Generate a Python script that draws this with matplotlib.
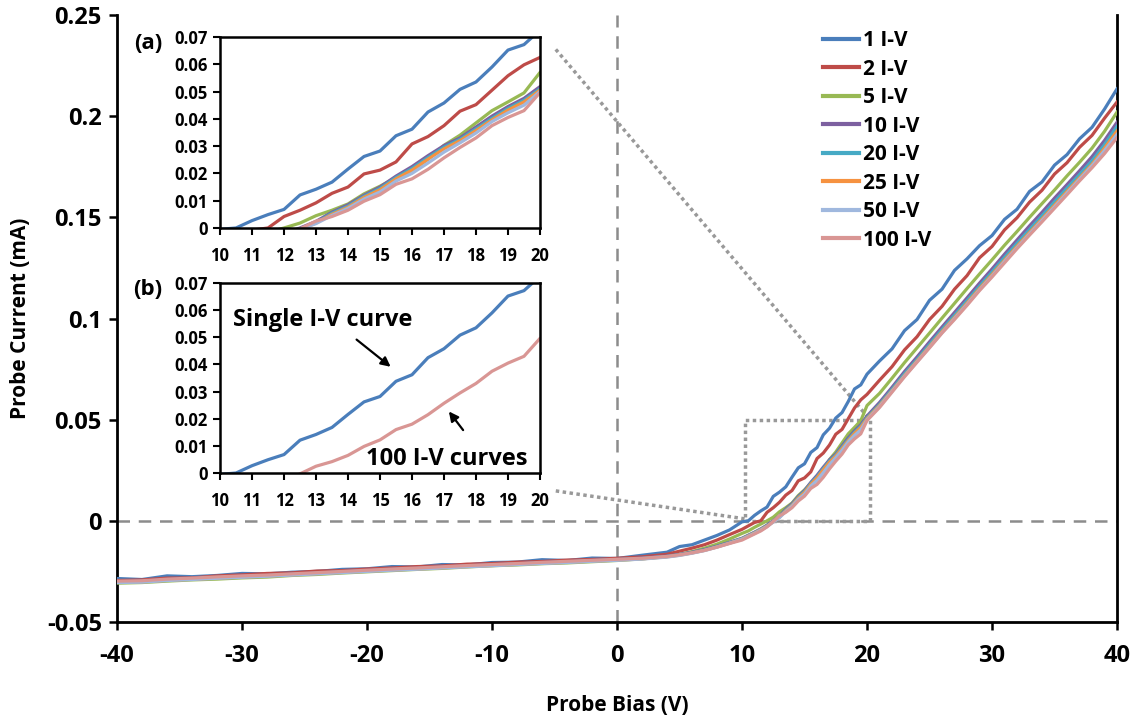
import matplotlib
matplotlib.use("Agg")
import matplotlib.pyplot as plt

plt.rcParams['font.family'] = ['Open Sans', 'DejaVu Sans']
plt.rcParams['font.weight'] = 'bold'
plt.rcParams['axes.unicode_minus'] = False

# probe bias grid (V)
bias = [-40, -38, -36, -34, -32, -30, -28, -26, -24, -22, -20, -18, -16, -14, -12,
        -10, -8, -6, -4, -2, 0, 2, 4,
        5, 6, 7, 8, 9,
        10, 10.5, 11, 11.5, 12, 12.5, 13, 13.5, 14, 14.5, 15, 15.5, 16, 16.5,
        17, 17.5, 18, 18.5, 19, 19.5, 20,
        21, 22, 23, 24, 25, 26, 27, 28, 29, 30, 31, 32, 33, 34, 35, 36, 37, 38, 39, 40]

# probe current (mA), one list per number of averaged I-V sweeps
iv_1 = [-0.0285, -0.0290, -0.0272, -0.0276, -0.0270, -0.0260, -0.0262, -0.0254, -0.0250, -0.0240,
        -0.0237, -0.0226, -0.0228, -0.0216, -0.0218, -0.0206, -0.0204, -0.0192, -0.0196, -0.0184,
        -0.0186, -0.0170, -0.0155,
        -0.0127, -0.0118, -0.0095, -0.0072, -0.0045,
        -0.0005, 0.0000, 0.0027, 0.0049, 0.0068, 0.0121, 0.0142, 0.0168, 0.0216, 0.0262, 0.0282,
        0.0338, 0.0362, 0.0425, 0.0458, 0.0508, 0.0535, 0.0590, 0.0652, 0.0672, 0.0725,
        0.0790, 0.0850, 0.0940, 0.0995, 0.1090, 0.1145, 0.1238, 0.1295, 0.1360, 0.1410,
        0.1490, 0.1540, 0.1628, 0.1675, 0.1758, 0.1810, 0.1888, 0.1945, 0.2035, 0.2135]
iv_2 = [-0.0295, -0.0292, -0.0283, -0.0282, -0.0272, -0.0267, -0.0260, -0.0257, -0.0248, -0.0246,
        -0.0238, -0.0233, -0.0226, -0.0223, -0.0214, -0.0211, -0.0204, -0.0201, -0.0194, -0.0191,
        -0.0185, -0.0178, -0.0165,
        -0.0150, -0.0135, -0.0118, -0.0095, -0.0068,
        -0.0042, -0.0025, -0.0008, 0.0000, 0.0042, 0.0065, 0.0092, 0.0127, 0.0150, 0.0198, 0.0212,
        0.0242, 0.0308, 0.0335, 0.0375, 0.0428, 0.0452, 0.0505, 0.0558, 0.0598, 0.0625,
        0.0695, 0.0762, 0.0845, 0.0910, 0.0995, 0.1060, 0.1145, 0.1212, 0.1300, 0.1356,
        0.1438, 0.1498, 0.1575, 0.1634, 0.1714, 0.1770, 0.1846, 0.1905, 0.1990, 0.2070]
iv_5 = [-0.0308, -0.0305, -0.0298, -0.0292, -0.0288, -0.0282, -0.0278, -0.0270, -0.0265, -0.0258,
        -0.0252, -0.0246, -0.0240, -0.0235, -0.0228, -0.0222, -0.0218, -0.0212, -0.0208, -0.0202,
        -0.0196, -0.0188, -0.0176,
        -0.0166, -0.0152, -0.0135, -0.0115, -0.0090,
        -0.0062, -0.0050, -0.0032, -0.0016, 0.0000, 0.0018, 0.0045, 0.0065, 0.0088, 0.0125, 0.0153,
        0.0185, 0.0210, 0.0252, 0.0303, 0.0340, 0.0385, 0.0430, 0.0462, 0.0495, 0.0570,
        0.0630, 0.0705, 0.0782, 0.0855, 0.0928, 0.1002, 0.1075, 0.1148, 0.1220, 0.1290,
        0.1362, 0.1430, 0.1500, 0.1568, 0.1635, 0.1705, 0.1772, 0.1842, 0.1925, 0.2020]
iv_10 = [-0.0300, -0.0298, -0.0290, -0.0285, -0.0280, -0.0274, -0.0270, -0.0263, -0.0258, -0.0251,
         -0.0245, -0.0240, -0.0234, -0.0229, -0.0222, -0.0217, -0.0212, -0.0206, -0.0202, -0.0196,
         -0.0191, -0.0184, -0.0174,
         -0.0166, -0.0155, -0.0142, -0.0125, -0.0106,
         -0.0086, -0.0071, -0.0056, -0.0040, -0.0021, 0.0000, 0.0024, 0.0058, 0.0085, 0.0120, 0.0150,
         0.0190, 0.0225, 0.0265, 0.0302, 0.0330, 0.0370, 0.0410, 0.0445, 0.0475, 0.0518,
         0.0585, 0.0660, 0.0738, 0.0810, 0.0885, 0.0958, 0.1030, 0.1102, 0.1175, 0.1245,
         0.1318, 0.1388, 0.1458, 0.1525, 0.1595, 0.1662, 0.1730, 0.1800, 0.1880, 0.1970]
iv_20 = [-0.0302, -0.0300, -0.0292, -0.0287, -0.0281, -0.0276, -0.0271, -0.0265, -0.0259, -0.0253,
         -0.0247, -0.0241, -0.0236, -0.0230, -0.0224, -0.0219, -0.0213, -0.0208, -0.0203, -0.0197,
         -0.0192, -0.0186, -0.0176,
         -0.0168, -0.0157, -0.0144, -0.0127, -0.0108,
         -0.0088, -0.0073, -0.0058, -0.0042, -0.0024, -0.0003, 0.0020, 0.0054, 0.0080, 0.0116, 0.0145,
         0.0185, 0.0218, 0.0258, 0.0296, 0.0325, 0.0363, 0.0402, 0.0438, 0.0468, 0.0510,
         0.0576, 0.0650, 0.0727, 0.0798, 0.0872, 0.0945, 0.1016, 0.1088, 0.1160, 0.1230,
         0.1302, 0.1372, 0.1440, 0.1508, 0.1577, 0.1645, 0.1712, 0.1780, 0.1860, 0.1950]
iv_25 = [-0.0304, -0.0302, -0.0294, -0.0289, -0.0283, -0.0278, -0.0273, -0.0267, -0.0261, -0.0255,
         -0.0249, -0.0243, -0.0238, -0.0232, -0.0226, -0.0221, -0.0215, -0.0210, -0.0205, -0.0199,
         -0.0194, -0.0188, -0.0178,
         -0.0170, -0.0159, -0.0146, -0.0129, -0.0110,
         -0.0090, -0.0075, -0.0060, -0.0044, -0.0026, -0.0005, 0.0018, 0.0050, 0.0076, 0.0112, 0.0140,
         0.0180, 0.0212, 0.0252, 0.0290, 0.0320, 0.0357, 0.0396, 0.0432, 0.0462, 0.0505,
         0.0570, 0.0643, 0.0718, 0.0790, 0.0862, 0.0935, 0.1005, 0.1076, 0.1148, 0.1217,
         0.1288, 0.1357, 0.1425, 0.1492, 0.1560, 0.1628, 0.1695, 0.1762, 0.1842, 0.1927]
iv_50 = [-0.0305, -0.0303, -0.0295, -0.0290, -0.0284, -0.0279, -0.0274, -0.0268, -0.0262, -0.0256,
         -0.0250, -0.0244, -0.0239, -0.0233, -0.0227, -0.0222, -0.0216, -0.0211, -0.0206, -0.0200,
         -0.0195, -0.0189, -0.0179,
         -0.0171, -0.0160, -0.0147, -0.0130, -0.0111,
         -0.0091, -0.0077, -0.0062, -0.0046, -0.0028, -0.0006, 0.0016, 0.0046, 0.0072, 0.0106, 0.0132,
         0.0172, 0.0200, 0.0238, 0.0278, 0.0312, 0.0348, 0.0390, 0.0422, 0.0450, 0.0500,
         0.0565, 0.0640, 0.0715, 0.0786, 0.0858, 0.0930, 0.1000, 0.1070, 0.1142, 0.1210,
         0.1282, 0.1350, 0.1418, 0.1485, 0.1552, 0.1620, 0.1688, 0.1755, 0.1830, 0.1910]
iv_100 = [-0.0298, -0.0296, -0.0288, -0.0283, -0.0277, -0.0272, -0.0268, -0.0262, -0.0256, -0.0250,
          -0.0244, -0.0238, -0.0233, -0.0227, -0.0221, -0.0216, -0.0211, -0.0205, -0.0200, -0.0195,
          -0.0190, -0.0185, -0.0176,
          -0.0168, -0.0158, -0.0146, -0.0130, -0.0112,
          -0.0095, -0.0080, -0.0065, -0.0050, -0.0030, -0.0003, 0.0025, 0.0042, 0.0065, 0.0098, 0.0122,
          0.0160, 0.0180, 0.0215, 0.0257, 0.0295, 0.0330, 0.0375, 0.0405, 0.0430, 0.0496,
          0.0560, 0.0636, 0.0712, 0.0784, 0.0855, 0.0928, 0.0995, 0.1065, 0.1138, 0.1205,
          0.1275, 0.1345, 0.1412, 0.1478, 0.1545, 0.1612, 0.1680, 0.1745, 0.1815, 0.1894]

labels = ["1 I-V", "2 I-V", "5 I-V", "10 I-V", "20 I-V", "25 I-V", "50 I-V", "100 I-V"]
series = [iv_1, iv_2, iv_5, iv_10, iv_20, iv_25, iv_50, iv_100]
colors = ["#4A7EBB", "#BE4B48", "#98B954", "#7D60A0", "#46AAC5", "#F69240", "#A0B8DE", "#D99694"]

main_xticks = [-40, -30, -20, -10, 0, 10, 20, 30, 40]
main_yticks = [-0.05, 0, 0.05, 0.1, 0.15, 0.2, 0.25]
main_ylabels = ["-0.05", "0", "0.05", "0.1", "0.15", "0.2", "0.25"]
inset_xticks = [10, 11, 12, 13, 14, 15, 16, 17, 18, 19, 20]
inset_yticks = [0, 0.01, 0.02, 0.03, 0.04, 0.05, 0.06, 0.07]
inset_ylabels = ["0", "0.01", "0.02", "0.03", "0.04", "0.05", "0.06", "0.07"]

grey = "#8C8C8C"
fig = plt.figure(figsize=(11.33, 7.18), dpi=100)

# ---- main plot
ax = fig.add_axes([0.1033, 0.1337, 0.8826, 0.8454])
ax.axvline(0, color=grey, lw=1.8, ls=(0, (5, 3.5)), zorder=1)
ax.axhline(0, color=grey, lw=1.8, ls=(0, (5, 3.5)), zorder=1)
for s, lab, c in zip(series, labels, colors):
    ax.plot(bias, s, color=c, lw=2.3, label=lab, zorder=3)

# zoom box and connectors
dot = (0, (1, 1))
ax.plot([10.2, 20.2, 20.2, 10.2, 10.2], [0, 0, 0.05, 0.05, 0], color="#999999",
        lw=2.5, ls=dot, zorder=2)
ax.plot([-4.9, 20.1], [0.233, 0.051], color="#999999", lw=2.5, ls=dot, zorder=2)
ax.plot([-4.9, 10.2], [0.0148, 0.001], color="#999999", lw=2.5, ls=dot, zorder=2)

ax.set_xlim(-40, 40)
ax.set_ylim(-0.05, 0.25)
ax.set_xticks(main_xticks)
ax.set_yticks(main_yticks)
ax.set_yticklabels(main_ylabels)
ax.tick_params(labelsize=17, width=1.8, length=6, direction="out", pad=5)
ax.tick_params(axis="x", pad=10)
for side in ["left", "bottom"]:
    ax.spines[side].set_linewidth(2)
ax.spines["top"].set_visible(False)
ax.spines["right"].set_linewidth(2)
ax.set_xlabel("Probe Bias (V)", fontsize=15, fontweight="bold", labelpad=19)
ax.set_ylabel("Probe Current (mA)", fontsize=15, fontweight="bold", labelpad=11)

leg = ax.legend(loc="upper left", bbox_to_anchor=(0.7264, 0.958), bbox_transform=fig.transFigure,
                frameon=False, fontsize=15, handlelength=1.75, handletextpad=0.15,
                labelspacing=0.36, borderpad=0, borderaxespad=0)
for line in leg.get_lines():
    line.set_linewidth(3)


def inset(rect, curves, tag):
    a = fig.add_axes(rect)
    for s, c in curves:
        a.plot(bias, s, color=c, lw=2.3)
    a.set_xlim(10, 20)
    a.set_ylim(0, 0.07)
    a.set_xticks(inset_xticks)
    a.set_yticks(inset_yticks)
    a.set_yticklabels(inset_ylabels)
    a.tick_params(labelsize=12, width=1.5, length=5, direction="out", pad=4)
    a.tick_params(axis="x", pad=9)
    for sp in a.spines.values():
        sp.set_linewidth(1.8)
    a.text(-0.225, 1.02, tag, transform=a.transAxes, fontsize=16, fontweight="bold",
           ha="center", va="top")
    return a


ins_a = inset([0.1942, 0.6825, 0.2824, 0.2660], list(zip(series, colors)), "(a)")
ins_b = inset([0.1942, 0.3412, 0.2824, 0.2646], [(iv_1, colors[0]), (iv_100, colors[7])], "(b)")

ins_b.text(10.4, 0.0565, "Single I-V curve", fontsize=17, fontweight="bold", va="center")
ins_b.text(14.55, 0.0052, "100 I-V curves", fontsize=17, fontweight="bold", va="center")
ins_b.annotate("", xy=(15.4, 0.0385), xytext=(14.2, 0.0498),
               arrowprops=dict(arrowstyle="-|>", color="black", lw=1.6, mutation_scale=14))
ins_b.annotate("", xy=(17.1, 0.0235), xytext=(17.65, 0.0150),
               arrowprops=dict(arrowstyle="-|>", color="black", lw=1.6, mutation_scale=14))

fig.savefig("out.png", dpi=100)
